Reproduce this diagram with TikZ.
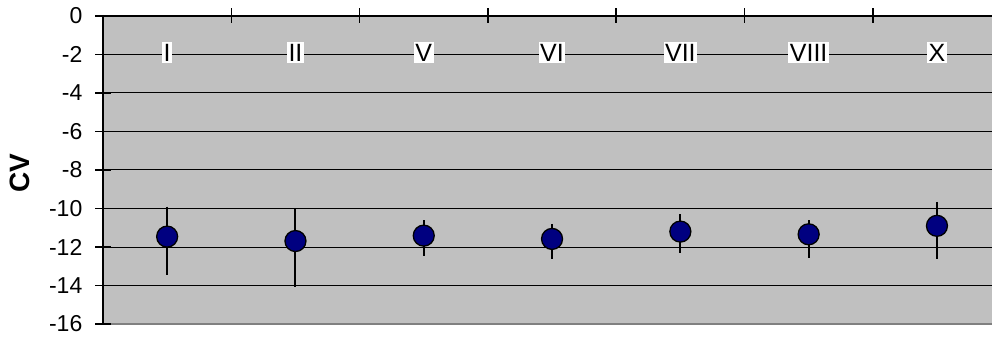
\documentclass[tikz,border=0pt]{standalone}
\usepackage{fontspec}
\setmainfont{Liberation Sans}
\definecolor{plotgray}{HTML}{C0C0C0}
\definecolor{marknavy}{HTML}{000080}
\definecolor{framegray}{HTML}{808080}
\tikzset{
  ticklabel/.style={anchor=east, inner sep=0pt, font=\fontsize{23}{23}\selectfont},
  catlabel/.style={fill=white, inner sep=1.5pt, font=\fontsize{25}{25}\selectfont},
  datapoint/.style={circle, draw=black, line width=1.3pt, fill=marknavy, inner sep=0pt, minimum size=21pt}
}
\begin{document}
\begin{tikzpicture}[x=1pt,y=19.25pt]
	\useasboundingbox (-103,0.831) rectangle (889,-16.883);
	% plot area
	\fill[plotgray] (0,0) rectangle (889,-16);
	\foreach \y in {-2,-4,...,-14}
	\draw[line width=1pt] (0,\y) -- (889,\y);
	\draw[framegray, line width=1.6pt] (0,-16) -- (889,-16);
	% value axis
	\draw[line width=1.6pt] (0,0.06) -- (0,-16.05);
	\foreach \y [count=\i] in {0,-2,...,-16}{
		\draw[line width=1.6pt] (-8,\y) -- (8,\y);
		\node[ticklabel] (val\i) at (-20.5,\y) {\y};
	}
	\node[rotate=90, font=\fontsize{28}{28}\selectfont\bfseries] (cvlabel) at (-83.5,-8.16) {CV};
	% category axis
	\draw[line width=1.6pt] (-8,0) -- (889,0);
	\foreach \x in {1,...,6}
	\draw[line width=1.6pt] (\x*128.3,0.41) -- (\x*128.3,-0.36);
	% error bars and points
	\foreach \name/\m/\hi/\lo [count=\i] in {I/-11.46/-9.9/-13.45, II/-11.69/-9.99/-14.1, V/-11.41/-10.6/-12.45, VI/-11.58/-10.8/-12.64, VII/-11.2/-10.29/-12.33, VIII/-11.34/-10.6/-12.55, X/-10.9/-9.66/-12.6}{
		\draw[line width=2pt] (\i*128.3-64.15,\hi) -- (\i*128.3-64.15,\lo);
		\node[datapoint] (pt\i) at (\i*128.3-64.15,\m) {};
		\node[catlabel] (cat\i) at (\i*128.3-64.15,-1.9) {\name};
	}
\end{tikzpicture}
\end{document}
